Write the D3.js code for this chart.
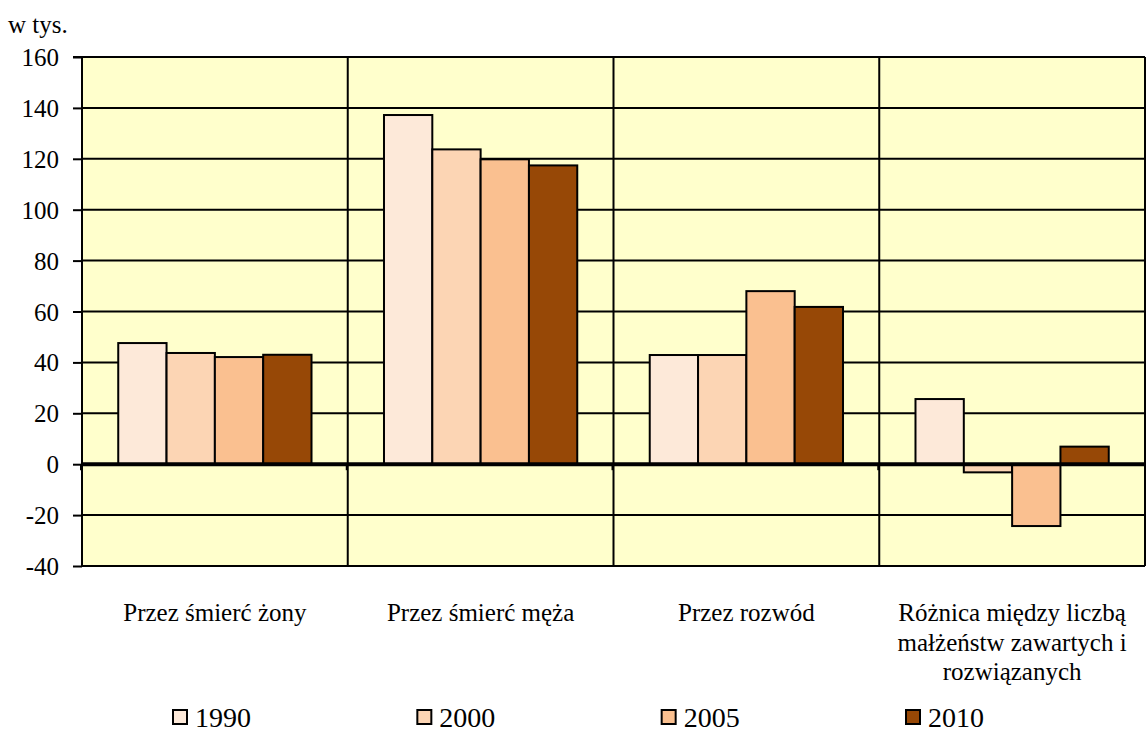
<!DOCTYPE html>
<html><head><meta charset="utf-8">
<script src="https://cdn.jsdelivr.net/npm/d3@7"></script>
<style>html,body{margin:0;padding:0;background:#fff;}svg{display:block;}</style>
</head><body>
<svg id="c" width="1146" height="734"></svg>
<script>
const categories = [["Przez śmierć żony"], ["Przez śmierć męża"], ["Przez rozwód"], ["Różnica między liczbą", "małżeństw zawartych i", "rozwiązanych"]];
const years = ["1990", "2000", "2005", "2010"];
const v1990 = [47.6, 137.2, 42.9, 25.6];
const v2000 = [43.7, 123.7, 42.9, -3.2];
const v2005 = [42.1, 119.8, 68.0, -24.3];
const v2010 = [43.0, 117.4, 61.8, 6.9];
const yTicks = [-40, -20, 0, 20, 40, 60, 80, 100, 120, 140, 160];
const colors = ["#FDE9D9", "#FCD5B4", "#FAC090", "#974806"];
const series = [v1990, v2000, v2005, v2010];

const FONT = '"Liberation Serif", "Times New Roman", serif';
const svg = d3.select("#c");
const L = 82, R = 1145, T = 57, B = 566;

const y = d3.scaleLinear().domain([-40, 160]).range([B, T]);
const x = d3.scaleBand().domain(d3.range(categories.length)).range([L, R]).paddingInner(0).paddingOuter(0);
const xs = d3.scaleBand().domain(d3.range(years.length)).range([0, x.bandwidth()]).paddingInner(0).paddingOuter(0.75);

svg.append("rect").attr("x", L).attr("y", T).attr("width", R - L).attr("height", B - T).attr("fill", "#FFFFCC");

svg.append("g").selectAll("line").data(yTicks.filter(d => d !== 0)).join("line")
  .attr("x1", L).attr("x2", R).attr("y1", d => y(d)).attr("y2", d => y(d))
  .attr("stroke", "#000").attr("stroke-width", 2);

const bounds = d3.range(1, categories.length).map(i => x(i)).concat([R]);
svg.append("g").selectAll("line").data(bounds).join("line")
  .attr("x1", d => d).attr("x2", d => d)
  .attr("y1", T).attr("y2", B).attr("stroke", "#000").attr("stroke-width", 2);

const g = svg.append("g");
series.forEach((vals, si) => {
  g.append("g").selectAll("rect").data(vals).join("rect")
    .attr("x", (d, i) => x(i) + xs(si))
    .attr("width", xs.bandwidth())
    .attr("y", d => y(Math.max(0, d)))
    .attr("height", d => Math.abs(y(d) - y(0)))
    .attr("fill", colors[si]).attr("stroke", "#000").attr("stroke-width", 2);
});

svg.append("line").attr("x1", L).attr("x2", R).attr("y1", y(0)).attr("y2", y(0))
  .attr("stroke", "#000").attr("stroke-width", 4);

svg.append("g").selectAll("line").data(d3.range(0, categories.length)).join("line")
  .attr("x1", d => x(d) - 1).attr("x2", d => x(d) - 1)
  .attr("y1", y(0)).attr("y2", y(0) + 6).attr("stroke", "#000").attr("stroke-width", 2);

const yAxis = d3.axisLeft(y).tickValues(yTicks).tickFormat(d => String(d)).tickSize(9).tickPadding(14);
const ya = svg.append("g").attr("transform", `translate(${L},0)`).call(yAxis);
ya.select(".domain").attr("stroke", "#000").attr("stroke-width", 2).attr("d", `M0,${T}V${B}`);
ya.selectAll(".tick line").attr("stroke", "#000").attr("stroke-width", 2);
ya.selectAll(".tick text").style("font-family", FONT).style("font-size", "25px").attr("fill", "#000").attr("dy", "0.34em");

svg.append("line").attr("x1", L - 9).attr("x2", R).attr("y1", T).attr("y2", T).attr("stroke", "#000").attr("stroke-width", 2);

svg.append("text").attr("x", 8).attr("y", 33).style("font-family", FONT).style("font-size", "25px").text("w tys.");

categories.forEach((lines, i) => {
  const cx = x(i) + x.bandwidth() / 2;
  const t = svg.append("text").attr("x", cx).attr("y", 621)
    .attr("text-anchor", "middle").style("font-family", FONT).style("font-size", "25px");
  lines.forEach((ln, k) => t.append("tspan").attr("x", cx).attr("dy", k === 0 ? 0 : 29.5).text(ln));
});

const lx = d3.scalePoint().domain(years).range([173, 906]);
const lg = svg.append("g");
years.forEach((yr, i) => {
  lg.append("rect").attr("x", lx(yr)).attr("y", 710).attr("width", 14).attr("height", 14)
    .attr("fill", colors[i]).attr("stroke", "#000").attr("stroke-width", 2);
  lg.append("text").attr("x", lx(yr) + 22).attr("y", 727).style("font-family", FONT).style("font-size", "28px").text(yr);
});
</script>
</body></html>
